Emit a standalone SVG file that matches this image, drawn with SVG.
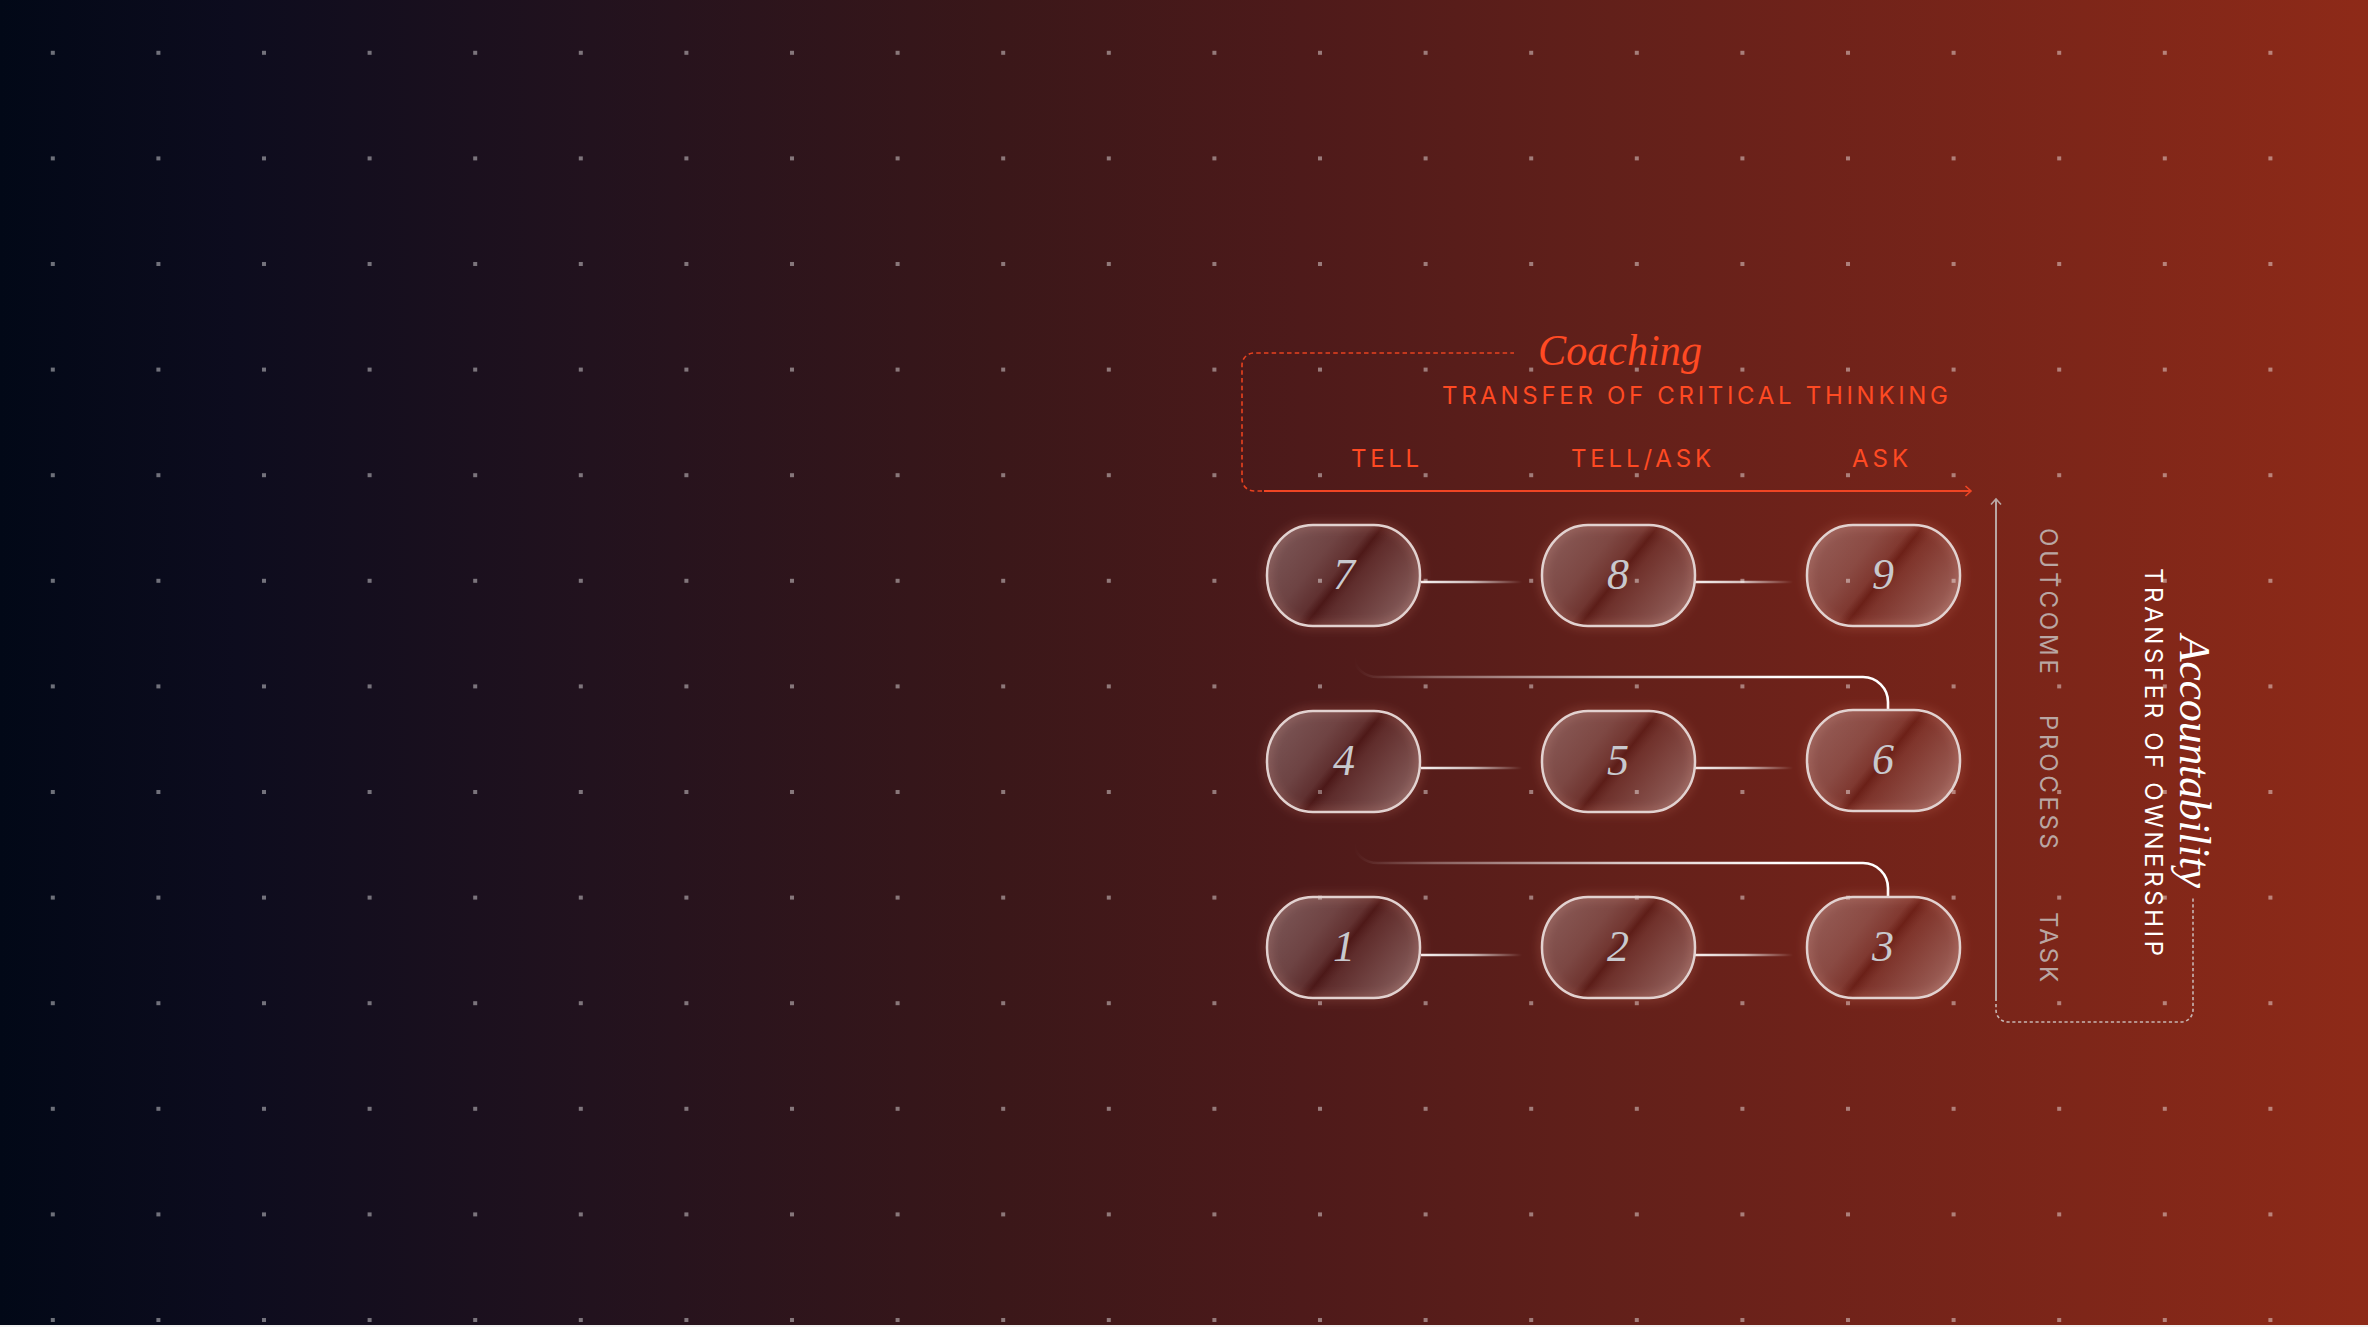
<svg xmlns="http://www.w3.org/2000/svg" width="2368" height="1327" viewBox="0 0 2368 1327">
  <defs>
    <linearGradient id="bg" x1="0" y1="0" x2="1" y2="0">
      <stop offset="0" stop-color="#020817"/>
      <stop offset="0.1" stop-color="#0d0c1e"/>
      <stop offset="0.25" stop-color="#22121e"/>
      <stop offset="0.42" stop-color="#3a1719"/>
      <stop offset="0.55" stop-color="#4e1a1a"/>
      <stop offset="0.68" stop-color="#62201a"/>
      <stop offset="0.76" stop-color="#6e221a"/>
      <stop offset="1" stop-color="#8e2a18"/>
    </linearGradient>
    <pattern id="dots" x="0" y="0" width="105.6" height="105.6" patternUnits="userSpaceOnUse">
      <rect x="50.8" y="50.8" width="4" height="4" fill="#ffffff" fill-opacity="0.42"/>
    </pattern>
    <linearGradient id="glass" x1="0" y1="0.25" x2="1" y2="0.77">
      <stop offset="0" stop-color="#ffffff" stop-opacity="0.26"/>
      <stop offset="0.3" stop-color="#ffffff" stop-opacity="0.18"/>
      <stop offset="0.44" stop-color="#ffffff" stop-opacity="0.1"/>
      <stop offset="0.5" stop-color="#2a0404" stop-opacity="0.1"/>
      <stop offset="0.58" stop-color="#ffffff" stop-opacity="0.08"/>
      <stop offset="0.8" stop-color="#ffffff" stop-opacity="0.19"/>
      <stop offset="1" stop-color="#ffffff" stop-opacity="0.3"/>
    </linearGradient>
    <linearGradient id="fadeA" gradientUnits="userSpaceOnUse" x1="1421" y1="0" x2="1522" y2="0">
      <stop offset="0" stop-color="#ffffff" stop-opacity="0.95"/>
      <stop offset="0.5" stop-color="#ffffff" stop-opacity="0.7"/>
      <stop offset="1" stop-color="#ffffff" stop-opacity="0"/>
    </linearGradient>
    <linearGradient id="fadeB" gradientUnits="userSpaceOnUse" x1="1695" y1="0" x2="1793" y2="0">
      <stop offset="0" stop-color="#ffffff" stop-opacity="0.95"/>
      <stop offset="0.5" stop-color="#ffffff" stop-opacity="0.7"/>
      <stop offset="1" stop-color="#ffffff" stop-opacity="0"/>
    </linearGradient>
    <linearGradient id="fadeC" gradientUnits="userSpaceOnUse" x1="1354" y1="0" x2="1888" y2="0">
      <stop offset="0" stop-color="#ffffff" stop-opacity="0"/>
      <stop offset="0.15" stop-color="#ffffff" stop-opacity="0.3"/>
      <stop offset="0.5" stop-color="#ffffff" stop-opacity="0.75"/>
      <stop offset="0.8" stop-color="#ffffff" stop-opacity="1"/>
    </linearGradient>
    <filter id="blur" x="-20%" y="-30%" width="140%" height="160%">
      <feGaussianBlur stdDeviation="5"/>
    </filter>
    <marker id="chevO" markerWidth="12" markerHeight="12" refX="7" refY="6" orient="auto" markerUnits="userSpaceOnUse">
      <path d="M1.5,1 L7,6 L1.5,11" fill="none" stroke="#f04524" stroke-width="1.6"/>
    </marker>
    <marker id="chevG" markerWidth="12" markerHeight="12" refX="7" refY="6" orient="auto" markerUnits="userSpaceOnUse">
      <path d="M1.5,1 L7,6 L1.5,11" fill="none" stroke="#b9a6a3" stroke-width="1.6"/>
    </marker>
    <style>
      .node { fill: url(#glass); stroke: #e2d2d0; stroke-width: 2.5; }
      .glow { fill: none; stroke: #ff9c86; stroke-opacity: 0.22; stroke-width: 6; filter: url(#blur); }
      .num { font-family: "Liberation Serif", "DejaVu Serif", serif; font-style: italic; font-size: 44px; fill: #c8c9ce; text-anchor: middle; }
      .hline { stroke-width: 2.6; fill: none; }
      .curve { stroke: url(#fadeC); stroke-width: 2.6; fill: none; }
      .serif { font-family: "Liberation Serif", "DejaVu Serif", serif; font-style: italic; font-size: 44px; }
      .sans { font-family: Inter, "Liberation Sans", "DejaVu Sans", sans-serif; font-size: 24px; }
      .orange { fill: #ff4a23; }
      .gray { fill: #b9a6a3; }
      .white { fill: #ffffff; }
    </style>
  </defs>

  <rect x="0" y="0" width="2368" height="1327" fill="url(#bg)"/>
  <rect x="0" y="0" width="2368" height="1327" fill="url(#dots)"/>
  <rect x="0" y="1325" width="2368" height="2" fill="#f2f2f2"/>

  <!-- Coaching axis -->
  <g id="coaching">
    <path d="M1262,491 H1254 A12,12 0 0 1 1242,479 V365 A12,12 0 0 1 1254,353 H1514" fill="none" stroke="#e8421f" stroke-width="1.6" stroke-dasharray="4.5 3.2"/>
    <path d="M1264,491 H1971" fill="none" stroke="#f04524" stroke-width="2" marker-end="url(#chevO)"/>
    <text class="serif orange" x="1538" y="365" textLength="164" lengthAdjust="spacingAndGlyphs">Coaching</text>
    <text class="sans orange" x="1442" y="404" textLength="506" lengthAdjust="spacing">TRANSFER OF CRITICAL THINKING</text>
    <text class="sans orange" x="1351" y="467" textLength="68" lengthAdjust="spacing">TELL</text>
    <text class="sans orange" x="1571" y="467" textLength="140" lengthAdjust="spacing">TELL/ASK</text>
    <text class="sans orange" x="1852" y="467" textLength="56" lengthAdjust="spacing">ASK</text>
  </g>

  <!-- Accountability axis -->
  <g id="accountability">
    <path d="M1996,1001 V499" fill="none" stroke="#b9a6a3" stroke-width="2" marker-end="url(#chevG)"/>
    <path d="M1996,1004 V1010 A12,12 0 0 0 2008,1022 H2181 A12,12 0 0 0 2193,1010 V896" fill="none" stroke="#c7b6b3" stroke-width="1.6" stroke-dasharray="3.2 2.6"/>
    <text class="sans gray" transform="translate(2040,528) rotate(90)" x="0" y="0" textLength="146" lengthAdjust="spacing">OUTCOME</text>
    <text class="sans gray" transform="translate(2040,715) rotate(90)" x="0" y="0" textLength="134" lengthAdjust="spacing">PROCESS</text>
    <text class="sans gray" transform="translate(2040,912) rotate(90)" x="0" y="0" textLength="70" lengthAdjust="spacing">TASK</text>
    <text class="sans white" transform="translate(2145,568) rotate(90)" x="0" y="0" textLength="388" lengthAdjust="spacing">TRANSFER OF OWNERSHIP</text>
    <text class="serif white" transform="translate(2180,635) rotate(90)" x="0" y="0" textLength="253" lengthAdjust="spacingAndGlyphs">Accountability</text>
  </g>

  <!-- Connectors -->
  <g id="connectors">
    <path class="hline" d="M1421,582 H1522" stroke="url(#fadeA)"/>
    <path class="hline" d="M1695,582 H1793" stroke="url(#fadeB)"/>
    <path class="hline" d="M1421,768 H1522" stroke="url(#fadeA)"/>
    <path class="hline" d="M1695,768 H1793" stroke="url(#fadeB)"/>
    <path class="hline" d="M1421,955 H1522" stroke="url(#fadeA)"/>
    <path class="hline" d="M1695,955 H1793" stroke="url(#fadeB)"/>
    <path class="curve" d="M1888,711 V702 A25,25 0 0 0 1863,677 H1378 A24,20 0 0 1 1354,657"/>
    <path class="curve" d="M1888,898 V888 A25,25 0 0 0 1863,863 H1378 A24,20 0 0 1 1354,843"/>
  </g>

  <!-- Nodes -->
  <g id="node-7"><rect class="glow" x="1267" y="525" width="153" height="101" rx="46" ry="50"/><rect class="node" x="1267" y="525" width="153" height="101" rx="46" ry="50"/><text class="num" x="1344" y="589">7</text></g>
  <g id="node-8"><rect class="glow" x="1542" y="525" width="153" height="101" rx="46" ry="50"/><rect class="node" x="1542" y="525" width="153" height="101" rx="46" ry="50"/><text class="num" x="1618" y="589">8</text></g>
  <g id="node-9"><rect class="glow" x="1807" y="525" width="153" height="101" rx="46" ry="50"/><rect class="node" x="1807" y="525" width="153" height="101" rx="46" ry="50"/><text class="num" x="1883" y="589">9</text></g>
  <g id="node-4"><rect class="glow" x="1267" y="711" width="153" height="101" rx="46" ry="50"/><rect class="node" x="1267" y="711" width="153" height="101" rx="46" ry="50"/><text class="num" x="1344" y="775">4</text></g>
  <g id="node-5"><rect class="glow" x="1542" y="711" width="153" height="101" rx="46" ry="50"/><rect class="node" x="1542" y="711" width="153" height="101" rx="46" ry="50"/><text class="num" x="1618" y="775">5</text></g>
  <g id="node-6"><rect class="glow" x="1807" y="710" width="153" height="101" rx="46" ry="50"/><rect class="node" x="1807" y="710" width="153" height="101" rx="46" ry="50"/><text class="num" x="1883" y="774">6</text></g>
  <g id="node-1"><rect class="glow" x="1267" y="897" width="153" height="101" rx="46" ry="50"/><rect class="node" x="1267" y="897" width="153" height="101" rx="46" ry="50"/><text class="num" x="1344" y="961">1</text></g>
  <g id="node-2"><rect class="glow" x="1542" y="897" width="153" height="101" rx="46" ry="50"/><rect class="node" x="1542" y="897" width="153" height="101" rx="46" ry="50"/><text class="num" x="1618" y="961">2</text></g>
  <g id="node-3"><rect class="glow" x="1807" y="897" width="153" height="101" rx="46" ry="50"/><rect class="node" x="1807" y="897" width="153" height="101" rx="46" ry="50"/><text class="num" x="1883" y="961">3</text></g>
</svg>
